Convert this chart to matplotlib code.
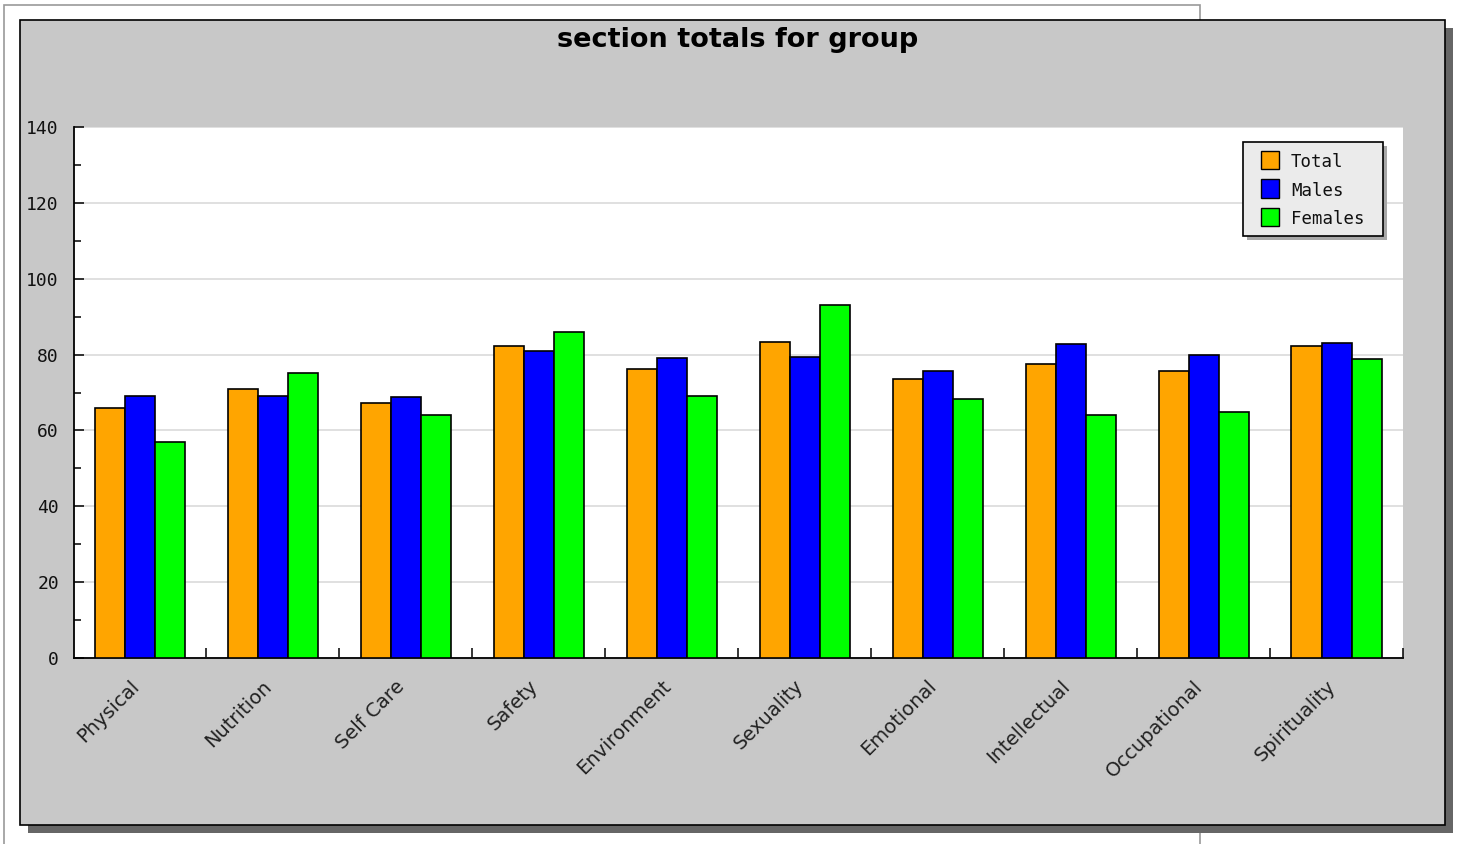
import matplotlib
matplotlib.use("Agg")
import matplotlib.pyplot as plt
from matplotlib.patches import Rectangle
import numpy as np

categories = ["Physical", "Nutrition", "Self Care", "Safety", "Environment",
              "Sexuality", "Emotional", "Intellectual", "Occupational", "Spirituality"]
total = [65.9, 71.0, 67.2, 82.2, 76.1, 83.2, 73.5, 77.6, 75.7, 82.3]
males = [69.2, 69.2, 68.7, 80.9, 79.0, 79.4, 75.8, 82.7, 80.0, 83.1]
females = [57.0, 75.1, 64.0, 85.9, 69.1, 93.1, 68.3, 64.0, 64.9, 78.9]
series_names = ["Total", "Males", "Females"]
series_colors = ["#FFA500", "#0000FF", "#00FF00"]
y_ticks = [0, 20, 40, 60, 80, 100, 120, 140]

W, H = 1458, 844
fig = plt.figure(figsize=(W / 100, H / 100), dpi=100, facecolor="white")


def fx(x):
    return x / W


def fy(y):
    return 1 - y / H


def frect(x0, y0, x1, y1, **kw):
    r = Rectangle((fx(x0), fy(y1)), fx(x1) - fx(x0), fy(y0) - fy(y1),
                  transform=fig.transFigure, **kw)
    fig.patches.append(r)
    return r


# outer page frame line
frect(4, 5, 1200, 900, fill=False, edgecolor="#999999", lw=1.2, zorder=0)
# shadow of chart panel + panel
frect(28, 28, 1453, 833, facecolor="#666666", edgecolor="none", zorder=1)
frect(20, 20, 1445, 825, facecolor="#C8C8C8", edgecolor="black", lw=1.2, zorder=2)

ax = fig.add_axes([fx(73.5), fy(658), fx(1403) - fx(73.5), fy(127) - fy(658)])
ax.set_zorder(3)
ax.set_facecolor("white")

n = len(categories)
bw = 0.226
x = np.arange(n) + 0.5
for k, (vals, col) in enumerate(zip([total, males, females], series_colors)):
    ax.bar(x + (k - 1) * bw, vals, width=bw, color=col, edgecolor="black",
           linewidth=1.2, zorder=3)

ax.set_xlim(0, n)
ax.set_ylim(0, 140)
ax.set_yticks(y_ticks)
ax.set_yticks(np.arange(10, 140, 20), minor=True)
ax.yaxis.grid(True, which="major", color="#DDDDDD", lw=1.3, zorder=0)
ax.set_axisbelow(True)
ax.tick_params(axis="y", which="major", direction="in", length=7.2, width=1.1,
               pad=10.5, labelsize=13, labelcolor="#111111")
ax.tick_params(axis="y", which="minor", direction="in", length=5, width=1.1)
for lab in ax.get_yticklabels():
    lab.set_family("DejaVu Sans Mono")

ax.set_xticks(x)
ax.set_xticklabels(categories, rotation=45, ha="right", va="baseline",
                   rotation_mode="anchor", fontsize=14, color="#222222")
ax.set_xticks(np.arange(1, n + 1), minor=True)
ax.tick_params(axis="x", which="major", length=0, pad=21)
ax.tick_params(axis="x", which="minor", direction="in", length=7, width=1.1)

for s in ["top", "right"]:
    ax.spines[s].set_visible(False)
for s in ["left", "bottom"]:
    ax.spines[s].set_linewidth(1.3)

fig.text(fx(738), fy(40), "section totals for group", ha="center", va="center",
         fontsize=19.5, fontweight="bold", zorder=5)

# legend (drawn in figure pixels)
frect(1247, 146, 1387, 240, facecolor="#A8A8A8", edgecolor="none", zorder=8)
frect(1243, 142, 1383, 236, facecolor="#EBEBEB", edgecolor="black", lw=1.2, zorder=9)
row_y = [160, 188.5, 217]
for name, col, yc in zip(series_names, series_colors, row_y):
    frect(1261, yc - 9, 1279, yc + 9, facecolor=col, edgecolor="black", lw=1.0, zorder=10)
    fig.text(fx(1291), fy(yc), name, ha="left", va="center_baseline",
             family="DejaVu Sans Mono", fontsize=12.5, color="#111111", zorder=11)

fig.savefig("out.png", dpi=100, facecolor="white")
